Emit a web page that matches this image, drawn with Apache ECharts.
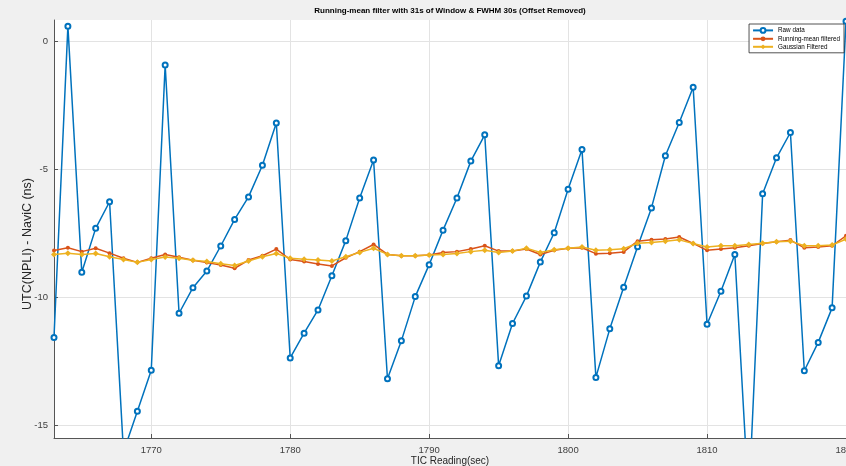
<!DOCTYPE html>
<html>
<head>
<meta charset="utf-8">
<script src="https://cdn.jsdelivr.net/npm/echarts@6/dist/echarts.min.js"></script>
<style>
html,body{margin:0;padding:0;background:#f0f0f0;}
#c{width:846px;height:466px;}
</style>
</head>
<body>
<div id="c"></div>
<script>
const seconds = [1763,1764,1765,1766,1767,1768,1769,1770,1771,1772,1773,1774,1775,1776,1777,1778,1779,1780,1781,1782,1783,1784,1785,1786,1787,1788,1789,1790,1791,1792,1793,1794,1795,1796,1797,1798,1799,1800,1801,1802,1803,1804,1805,1806,1807,1808,1809,1810,1811,1812,1813,1814,1815,1816,1817,1818,1819,1820];
const rawData = [-11.57,0.61,-9.02,-7.30,-6.26,-16.05,-14.45,-12.85,-0.91,-10.62,-9.62,-8.97,-7.99,-6.95,-6.07,-4.83,-3.18,-12.37,-11.40,-10.49,-9.15,-7.78,-6.11,-4.63,-13.18,-11.70,-9.97,-8.72,-7.37,-6.11,-4.67,-3.64,-12.67,-11.02,-9.95,-8.62,-7.47,-5.77,-4.22,-13.13,-11.23,-9.60,-8.02,-6.50,-4.46,-3.16,-1.78,-11.05,-9.76,-8.32,-18.0,-5.95,-4.54,-3.55,-12.87,-11.76,-10.41,0.8];
const runningMean = [-8.17,-8.06,-8.21,-8.08,-8.27,-8.47,-8.63,-8.47,-8.32,-8.43,-8.55,-8.64,-8.73,-8.86,-8.54,-8.37,-8.11,-8.52,-8.60,-8.69,-8.77,-8.45,-8.21,-7.93,-8.32,-8.37,-8.37,-8.34,-8.24,-8.21,-8.11,-7.98,-8.19,-8.19,-8.11,-8.32,-8.16,-8.08,-8.06,-8.29,-8.27,-8.22,-7.80,-7.75,-7.72,-7.64,-7.89,-8.16,-8.11,-8.06,-7.98,-7.89,-7.82,-7.76,-8.06,-8.03,-7.98,-7.59];
const gaussian = [-8.32,-8.27,-8.32,-8.28,-8.41,-8.52,-8.63,-8.52,-8.42,-8.47,-8.55,-8.60,-8.68,-8.75,-8.58,-8.41,-8.28,-8.47,-8.51,-8.54,-8.58,-8.41,-8.24,-8.08,-8.32,-8.37,-8.37,-8.34,-8.32,-8.28,-8.21,-8.16,-8.24,-8.19,-8.08,-8.24,-8.14,-8.08,-8.03,-8.16,-8.14,-8.10,-7.88,-7.85,-7.80,-7.75,-7.89,-8.03,-7.98,-7.98,-7.93,-7.88,-7.82,-7.80,-7.98,-7.98,-7.95,-7.72];
const xTicks = [1770,1780,1790,1800,1810,1820];
const yTicks = [-15,-10,-5,0];
const seriesNames = ['Raw data','Running-mean filtered','Gaussian Filtered'];

const pair = arr => seconds.map((s,i)=>[s,arr[i]]);
const chart = echarts.init(document.getElementById('c'), null, {renderer:'canvas'});
const font = '"Liberation Sans", Arial, sans-serif';
chart.setOption({
  animation:false,
  backgroundColor:'#f0f0f0',
  title:{
    text:'Running-mean filter with 31s of Window & FWHM 30s (Offset Removed)',
    left:450, textAlign:'center', top:7, padding:0,
    textStyle:{fontSize:8,fontWeight:'bold',color:'#000',fontFamily:font}
  },
  grid:{left:54,right:0,top:20,bottom:28,show:true,backgroundColor:'#ffffff',borderWidth:0,outerBoundsMode:'none',containLabel:false},
  legend:{
    orient:'vertical', right:2, top:24,
    data:seriesNames,
    itemWidth:20,itemHeight:6,itemGap:2,
    backgroundColor:'#ffffff',borderColor:'#262626',borderWidth:0.8,
    padding:[3,4,3,3],
    textStyle:{fontSize:6.3,color:'#000',fontFamily:font}
  },
  xAxis:{
    type:'value',min:1763,max:1820,
    name:'TIC Reading(sec)',nameLocation:'middle',nameGap:18,nameMoveOverlap:false,
    nameTextStyle:{fontSize:10,color:'#262626',fontFamily:font,verticalAlign:'top'},
    axisLine:{show:true,onZero:false,lineStyle:{color:'#555',width:1}},
    axisTick:{show:true,inside:true,length:4,customValues:xTicks,lineStyle:{color:'#555'}},
    axisLabel:{customValues:xTicks,fontSize:9.5,color:'#404040',margin:7,fontFamily:font,formatter:v=>String(v)},
    splitLine:{show:true,lineStyle:{color:'#e3e3e3',width:1}}
  },
  yAxis:{
    type:'value',min:-15.5,max:0.85,
    name:'UTC(NPLI) - NaviC (ns)',nameLocation:'middle',nameGap:20,nameRotate:90,nameMoveOverlap:false,
    nameTextStyle:{fontSize:12.5,color:'#262626',fontFamily:font,padding:[0,30,0,0]},
    axisLine:{show:true,onZero:false,lineStyle:{color:'#555',width:1}},
    axisTick:{show:true,inside:true,length:4,customValues:yTicks,lineStyle:{color:'#555'}},
    axisLabel:{customValues:yTicks,fontSize:9.5,color:'#404040',margin:6,fontFamily:font,formatter:v=>String(v)},
    splitLine:{show:true,lineStyle:{color:'#e3e3e3',width:1}}
  },
  series:[
    {name:seriesNames[0],type:'line',data:pair(rawData),
     symbol:'emptyCircle',symbolSize:5,
     lineStyle:{color:'#0072BD',width:1.5},
     itemStyle:{color:'#0072BD',borderColor:'#0072BD',borderWidth:1.2},
     z:2},
    {name:seriesNames[1],type:'line',data:pair(runningMean),
     symbol:'circle',symbolSize:4,
     lineStyle:{color:'#D95319',width:1.5},
     itemStyle:{color:'#D95319'},z:3},
    {name:seriesNames[2],type:'line',data:pair(gaussian),
     symbol:'diamond',symbolSize:6,
     lineStyle:{color:'#EDB120',width:1.5},
     itemStyle:{color:'#EDB120'},z:4}
  ]
});
</script>
</body>
</html>
